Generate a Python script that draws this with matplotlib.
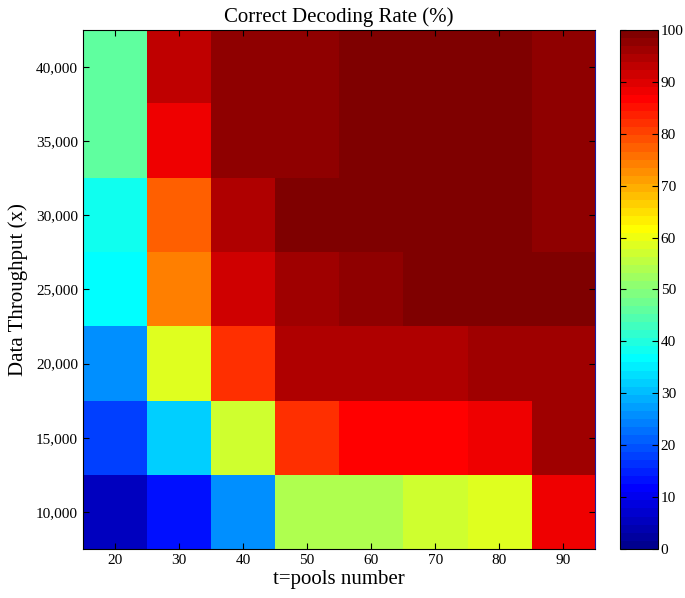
import numpy as np
import matplotlib
matplotlib.use("Agg")
import matplotlib.pyplot as plt
from matplotlib.colors import ListedColormap
from matplotlib.ticker import FuncFormatter

plt.rcParams['font.family'] = ['Liberation Serif', 'DejaVu Serif']

# pools number (columns) and data throughput (rows)
pools = [20, 30, 40, 50, 60, 70, 80, 90]
throughput = [10000, 15000, 20000, 25000, 30000, 35000, 40000]

# correct decoding rate (%), one list per throughput row, bottom to top
rate_10k = [6, 12.5, 26, 54, 54, 57.5, 59, 87.5]
rate_15k = [17.5, 32.5, 57.5, 82.5, 86, 86, 89, 96]
rate_20k = [26, 59, 82.5, 94.5, 94.5, 94.5, 96, 96]
rate_25k = [36, 74, 91, 96, 97.5, 100, 100, 100]
rate_30k = [37.5, 77.5, 94.5, 100, 100, 100, 100, 97.5]
rate_35k = [45.5, 88, 97.5, 97.5, 100, 100, 100, 97.5]
rate_40k = [45.5, 92.5, 97.5, 97.5, 100, 100, 100, 97.5]

Z = np.array([rate_10k, rate_15k, rate_20k, rate_25k, rate_30k, rate_35k, rate_40k])


def matlab_jet(m=64):
    # same construction as matlab's jet(m)
    n = int(np.ceil(m / 4))
    u = np.concatenate([np.arange(1, n + 1) / n, np.ones(n - 1), np.arange(n, 0, -1) / n])
    g = int(np.ceil(n / 2)) - (1 if m % 4 == 1 else 0) + np.arange(1, len(u) + 1)
    r = g + n
    b = g - n
    J = np.zeros((m, 3))
    for ch, idx in ((0, r), (1, g), (2, b)):
        ok = (idx >= 1) & (idx <= m)
        J[idx[ok] - 1, ch] = u[ok]
    return ListedColormap(J)


fig = plt.figure(figsize=(6.85, 5.98), dpi=100)
ax = fig.add_axes([0.121, 0.082, 0.748, 0.868])
cax = fig.add_axes([0.905, 0.082, 0.0555, 0.868])

dx = pools[1] - pools[0]
dy = throughput[1] - throughput[0]
extent = [pools[0] - dx / 2, pools[-1] + dx / 2,
          throughput[0] - dy / 2, throughput[-1] + dy / 2]
im = ax.imshow(Z, origin='lower', extent=extent, aspect='auto',
               cmap=matlab_jet(64), vmin=0, vmax=100,
               interpolation='nearest')

ax.set_xticks(pools)
ax.set_yticks(throughput)
ax.yaxis.set_major_formatter(FuncFormatter(lambda v, p: f'{int(v):,}'))
ax.tick_params(direction='in', top=True, right=True, labelsize=11, length=4)
ax.spines['right'].set_color('#1a1aa0')

ax.set_title('Correct Decoding Rate (%)', fontsize=15, pad=6)
ax.set_xlabel('t=pools number', fontsize=15, labelpad=2)
ax.set_ylabel('Data Throughput (x)', fontsize=15, labelpad=6)

cb = fig.colorbar(im, cax=cax, ticks=range(0, 101, 10))
cb.ax.tick_params(direction='in', labelsize=11, length=4, pad=2, left=True)
cb.outline.set_linewidth(0.8)

fig.savefig('out.png', dpi=100)
